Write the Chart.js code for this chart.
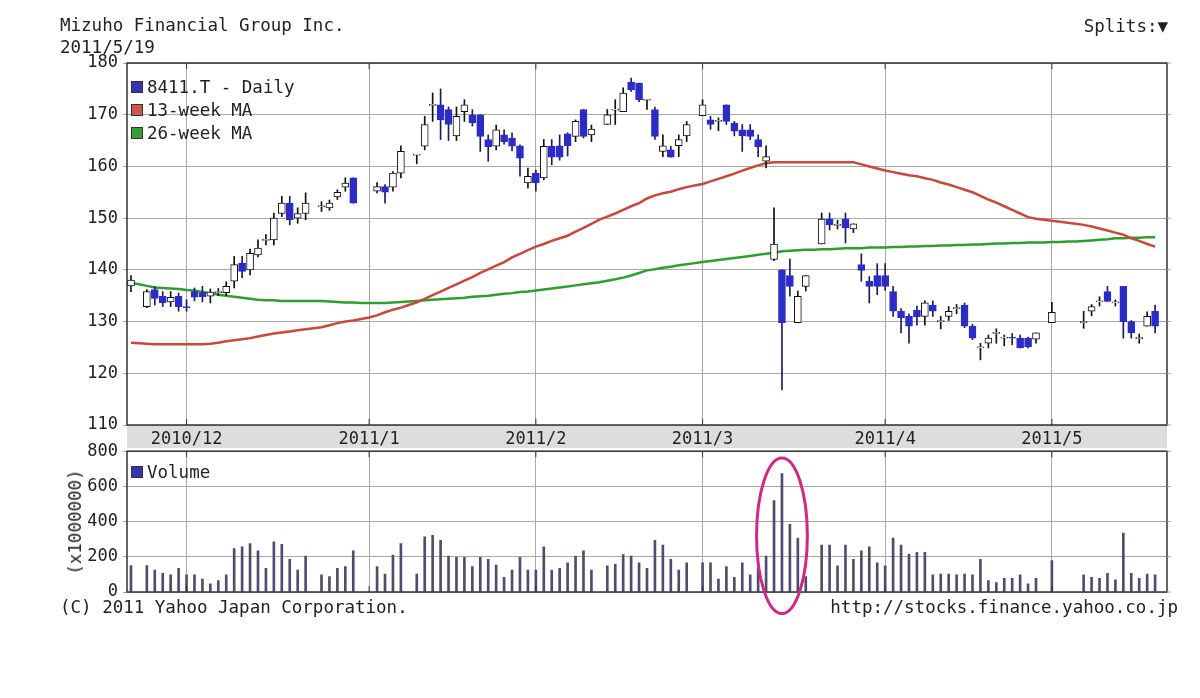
<!DOCTYPE html>
<html>
<head>
<meta charset="utf-8">
<title>Mizuho Financial Group Inc.</title>
<script src="https://cdn.jsdelivr.net/npm/chart.js@4.4.1/dist/chart.umd.min.js"></script>
<style>
  body { margin: 0; background: #fff; font-family: 'DejaVu Sans Mono', monospace; color: #222; }
  #wrap { position: relative; width: 1200px; height: 698px; overflow: hidden; }
  canvas { position: absolute; left: 0; }
  .t { position: absolute; font-size: 17.5px; line-height: 20px; white-space: pre; }
  .key { position: absolute; width: 10px; height: 10px; border: 1px solid #333; }
</style>
</head>
<body>
<div id="wrap">
  <canvas id="priceChart" width="1200" height="448" style="top:0"></canvas>
  <canvas id="volumeChart" width="1200" height="189" style="top:436px"></canvas>

  <div class="t" style="left:60px; top:15px">Mizuho Financial Group Inc.</div>
  <div class="t" style="left:60px; top:37px">2011/5/19</div>
  <div class="t" style="right:32px; top:16px">Splits:▼</div>

  <div class="key" style="left:131px; top:81px; background:#3434b4"></div>
  <div class="t" style="left:147px; top:77px">8411.T - Daily</div>
  <div class="key" style="left:131px; top:104px; background:#d0554a"></div>
  <div class="t" style="left:147px; top:100px">13-week MA</div>
  <div class="key" style="left:131px; top:127px; background:#34a034"></div>
  <div class="t" style="left:147px; top:123px">26-week MA</div>

  <div class="key" style="left:131px; top:466px; background:#3434b4"></div>
  <div class="t" style="left:147px; top:462px">Volume</div>
  <div class="t" style="left:75px; top:522px; transform:translate(-50%,-50%) rotate(-90deg)">(x1000000)</div>

  <div class="t" style="left:60px; top:597px">(C) 2011 Yahoo Japan Corporation.</div>
  <div class="t" style="right:22px; top:597px">http://stocks.finance.yahoo.co.jp</div>
</div>

<script>
// jours ouvrés (l'axe garde aussi les jours fériés, vides)
const dates = [
  '2010/11/22','2010/11/23','2010/11/24','2010/11/25','2010/11/26','2010/11/29','2010/11/30',
  '2010/12/1','2010/12/2','2010/12/3','2010/12/6','2010/12/7','2010/12/8','2010/12/9','2010/12/10',
  '2010/12/13','2010/12/14','2010/12/15','2010/12/16','2010/12/17','2010/12/20','2010/12/21','2010/12/22',
  '2010/12/23','2010/12/24','2010/12/27','2010/12/28','2010/12/29','2010/12/30','2010/12/31',
  '2011/1/3','2011/1/4','2011/1/5','2011/1/6','2011/1/7','2011/1/10','2011/1/11','2011/1/12','2011/1/13',
  '2011/1/14','2011/1/17','2011/1/18','2011/1/19','2011/1/20','2011/1/21','2011/1/24','2011/1/25',
  '2011/1/26','2011/1/27','2011/1/28','2011/1/31',
  '2011/2/1','2011/2/2','2011/2/3','2011/2/4','2011/2/7','2011/2/8','2011/2/9','2011/2/10','2011/2/11',
  '2011/2/14','2011/2/15','2011/2/16','2011/2/17','2011/2/18','2011/2/21','2011/2/22','2011/2/23',
  '2011/2/24','2011/2/25','2011/2/28','',
  '2011/3/1','2011/3/2','2011/3/3','2011/3/4','2011/3/7','2011/3/8','2011/3/9','2011/3/10','2011/3/11',
  '2011/3/14','2011/3/15','2011/3/16','2011/3/17','2011/3/18','2011/3/21','2011/3/22','2011/3/23',
  '2011/3/24','2011/3/25','2011/3/28','2011/3/29','2011/3/30','2011/3/31',
  '2011/4/1','2011/4/4','2011/4/5','2011/4/6','2011/4/7','2011/4/8','2011/4/11','2011/4/12','2011/4/13',
  '2011/4/14','2011/4/15','2011/4/18','2011/4/19','2011/4/20','2011/4/21','2011/4/22','2011/4/25',
  '2011/4/26','2011/4/27','2011/4/28','2011/4/29',
  '2011/5/2','2011/5/3','2011/5/4','2011/5/5','2011/5/6','2011/5/9','2011/5/10','2011/5/11','2011/5/12',
  '2011/5/13','2011/5/16','2011/5/17','2011/5/18','2011/5/19','2011/5/20'
];

// graduations des mois
const tickDates  = ['2010/12/1', '2011/1/3', '2011/2/1', '2011/3/1', '2011/4/1', '2011/5/2'];
const tickLabels = ['2010/12', '2011/1', '2011/2', '2011/3', '2011/4', '2011/5'];

const open = [
  136.9, null, 132.9, 136.2, 134.9, 133.8, 134.9,
  132.9, 135.8, 135.6, 134.9, 135.6, 135.6, 137.8, 141.3, 140.0, 142.9, 145.7, 145.8, 150.9, 152.9, 150.0, 150.9, null, 152.2, 152.0, 154.1, 156.0, 157.8, null,
  null, 155.2, 156.1, 156.0, 158.7, null, 162.2, 163.9, 171.8, 171.9, 171.0, 165.9, 170.6, 170.0, 170.0, 165.2, 163.9, 166.1, 165.5, 164.0, 156.8,
  158.7, 157.8, 163.9, 164.0, 166.3, 165.8, 171.0, 166.1, null, 168.1, 170.9, 170.6, 176.3, 176.1, 172.8, 171.0, 162.9, 163.2, 164.0, 165.9, null,
  169.8, 169.0, 168.7, 171.9, 168.4, 167.1, 167.1, 165.2, 161.0, 142.0, 140.0, 138.9, 129.8, 136.8, null, 145.0, 149.8, 148.6, 149.8, 147.9, 141.0, 137.8, 138.9,
  138.9, 135.8, 132.0, 131.0, 132.2, 131.0, 133.2, 130.0, 131.0, 132.5, 133.2, 129.1, 124.9, 125.8, 127.7, 126.8, 126.9, 126.8, 126.8, 126.6, null,
  129.8, null, null, null, 129.8, 132.0, 133.8, 135.8, 133.6, 136.8, 130.0, 126.7, 129.1, 132.0, null
];
const high = [
  138.9, null, 136.2, 136.8, 135.8, 135.8, 135.5,
  134.2, 136.5, 136.8, 136.3, 136.4, 137.7, 142.6, 142.6, 144.0, 145.8, 146.8, 151.0, 154.2, 154.2, 152.0, 154.9, null, 153.2, 153.5, 155.5, 157.8, 157.8, null,
  null, 156.9, 156.5, 159.0, 164.0, null, 162.3, 169.7, 174.2, 175.0, 171.5, 171.5, 172.9, 171.0, 170.0, 166.1, 168.0, 167.1, 166.5, 164.2, 159.7,
  159.3, 165.2, 165.2, 166.1, 166.5, 169.0, 171.0, 168.0, null, 171.0, 172.9, 175.2, 177.1, 176.1, 172.9, 171.5, 166.1, 163.9, 166.1, 168.7, null,
  172.9, 169.7, 169.4, 171.9, 168.7, 168.1, 168.1, 166.1, 164.0, 152.0, 140.0, 142.1, 135.9, 138.9, null, 151.0, 151.0, 149.6, 151.0, 148.9, 143.1, 138.7, 141.2,
  141.2, 136.8, 132.5, 131.5, 133.0, 134.0, 134.0, 131.0, 132.9, 133.3, 133.6, 129.5, 125.8, 127.4, 128.6, 127.4, 127.7, 127.4, 127.0, 127.8, null,
  133.7, null, null, null, 132.0, 133.3, 134.8, 136.8, 134.2, 136.8, 130.2, 127.6, 131.9, 133.2, null
];
const low = [
  135.8, null, 132.7, 133.2, 132.9, 132.9, 132.0,
  132.0, 134.0, 133.8, 133.6, 135.0, 135.0, 136.5, 138.5, 139.0, 142.5, 144.8, 144.8, 150.3, 148.7, 149.0, 149.7, null, 151.3, 151.5, 153.6, 155.2, 152.9, null,
  null, 154.9, 152.9, 155.2, 157.8, null, 160.5, 163.2, 168.7, 165.2, 165.0, 165.0, 168.7, 167.8, 162.9, 161.0, 163.2, 164.3, 163.0, 158.1, 155.8,
  155.2, 157.4, 160.3, 161.2, 162.0, 164.8, 165.5, 164.8, null, 168.1, 168.1, 170.6, 174.5, 172.5, 171.0, 165.2, 161.9, 161.8, 161.9, 164.8, null,
  169.8, 167.2, 166.9, 168.1, 165.9, 162.9, 165.2, 161.9, 159.7, 141.8, 116.8, 134.9, 129.8, 135.9, null, 145.0, 147.7, 147.9, 145.2, 147.2, 137.8, 133.6, 135.2,
  136.0, 131.0, 127.8, 125.8, 129.3, 129.3, 131.0, 128.6, 130.2, 131.5, 128.8, 126.5, 122.6, 124.9, 125.8, 125.3, 125.5, 124.9, 124.9, 125.8, null,
  129.8, null, null, null, 128.7, 131.1, 133.0, 133.9, 133.0, 126.8, 126.8, 125.8, 129.1, 127.8, null
];
const close = [
  138.0, null, 135.8, 134.5, 133.6, 134.7, 132.9,
  132.7, 134.7, 134.8, 135.7, 135.8, 136.8, 141.0, 139.7, 143.2, 144.2, 145.9, 150.0, 152.9, 149.7, 150.9, 152.9, null, 152.4, 152.9, 155.0, 156.8, 152.9, null,
  null, 156.1, 155.0, 158.7, 162.9, null, 162.3, 168.1, 172.0, 169.0, 168.1, 169.7, 171.9, 168.4, 165.8, 163.8, 167.1, 164.8, 163.9, 161.6, 158.1,
  156.8, 163.9, 161.8, 161.8, 164.0, 168.7, 165.8, 167.2, null, 170.0, 171.0, 174.2, 174.8, 172.9, 172.9, 165.8, 164.0, 161.8, 165.2, 168.1, null,
  171.9, 168.1, 168.8, 168.7, 166.8, 165.9, 165.8, 163.8, 161.9, 145.0, 129.8, 136.8, 134.9, 138.9, null, 149.8, 148.7, 148.8, 148.1, 148.9, 139.9, 136.8, 136.8,
  136.8, 132.0, 130.7, 129.1, 130.9, 133.6, 132.0, 130.1, 132.0, 132.7, 129.1, 126.8, 125.0, 126.8, 127.9, 126.9, 126.8, 124.9, 125.1, 127.8, null,
  131.8, null, null, null, 129.9, 132.9, 134.0, 133.9, 133.8, 130.0, 127.8, 126.9, 131.0, 129.1, null
];

// moyennes mobiles 13 et 26 semaines
const ma13 = [
  125.9, 125.8, 125.7, 125.6, 125.6, 125.6, 125.6,
  125.6, 125.6, 125.6, 125.7, 125.9, 126.2, 126.4, 126.6, 126.8, 127.1, 127.4, 127.7, 127.9, 128.1, 128.3, 128.5, 128.7, 128.9, 129.3, 129.7, 130.0, 130.2, 130.5,
  130.8, 131.2, 131.8, 132.3, 132.7, 133.2, 133.7, 134.4, 135.1, 135.8, 136.5, 137.2, 137.9, 138.6, 139.4, 140.1, 140.8, 141.5, 142.4, 143.1, 143.8,
  144.5, 145.0, 145.6, 146.1, 146.6, 147.4, 148.1, 148.9, 149.7, 150.3, 150.9, 151.6, 152.3, 152.9, 153.8, 154.4, 154.8, 155.1, 155.6, 156.0, 156.3,
  156.6, 157.1, 157.6, 158.1, 158.6, 159.2, 159.7, 160.2, 160.6, 160.8, 160.8, 160.8, 160.8, 160.8, 160.8, 160.8, 160.8, 160.8, 160.8, 160.8, 160.4, 160.0, 159.6,
  159.2, 158.9, 158.6, 158.3, 158.1, 157.7, 157.4, 156.9, 156.5, 156.0, 155.5, 155.0, 154.3, 153.6, 153.0, 152.3, 151.6, 150.9, 150.2, 149.9, 149.7,
  149.5, 149.3, 149.1, 148.9, 148.7, 148.4, 148.0, 147.6, 147.2, 146.8, 146.1, 145.6, 145.0, 144.5, null
];
const ma26 = [
  137.5, 137.2, 136.9, 136.6, 136.5, 136.4, 136.3,
  136.1, 136.0, 135.7, 135.5, 135.2, 135.0, 134.8, 134.6, 134.4, 134.2, 134.1, 134.1, 134.0, 134.0, 134.0, 134.0, 134.0, 134.0, 133.9, 133.8, 133.7, 133.7, 133.6,
  133.6, 133.6, 133.6, 133.7, 133.8, 133.9, 134.0, 134.1, 134.2, 134.3, 134.4, 134.5, 134.6, 134.8, 134.9, 135.0, 135.2, 135.4, 135.5, 135.7, 135.8,
  136.0, 136.2, 136.4, 136.6, 136.8, 137.0, 137.2, 137.4, 137.6, 137.9, 138.2, 138.5, 138.9, 139.4, 139.9, 140.1, 140.4, 140.6, 140.9, 141.1, 141.3,
  141.5, 141.7, 141.9, 142.1, 142.3, 142.5, 142.7, 142.9, 143.1, 143.3, 143.6, 143.7, 143.8, 143.9, 143.9, 144.0, 144.0, 144.1, 144.2, 144.2, 144.2, 144.3, 144.3,
  144.3, 144.4, 144.4, 144.5, 144.5, 144.6, 144.6, 144.7, 144.7, 144.8, 144.8, 144.9, 144.9, 145.0, 145.1, 145.1, 145.2, 145.2, 145.3, 145.3, 145.3,
  145.4, 145.4, 145.5, 145.5, 145.6, 145.7, 145.8, 145.9, 146.1, 146.1, 146.2, 146.2, 146.3, 146.3, null
];

// volume (x1 000 000)
const volume = [
  150, null, 150, 125, 106, 97, 135,
  97, 97, 73, 46, 65, 97, 247, 256, 275, 234, 135, 285, 271, 185, 125, 204, null, 97, 87, 135, 144, 234, null,
  null, 144, 102, 210, 275, null, 102, 313, 322, 294, 204, 197, 197, 144, 197, 185, 153, 84, 125, 197, 125,
  125, 256, 125, 135, 166, 204, 234, 125, null, 148, 157, 213, 204, 166, 135, 294, 266, 185, 125, 166, null,
  166, 166, 73, 144, 84, 166, 97, 135, 204, 519, 673, 384, 307, 87, null, 266, 266, 148, 266, 185, 234, 256, 166,
  148, 307, 266, 215, 225, 225, 97, 102, 102, 97, 102, 97, 185, 65, 54, 78, 78, 97, 46, 78, null,
  178, null, null, null, 97, 84, 78, 106, 69, 335, 106, 78, 102, 97, null
];

// la séance entourée à la main sur l'original
const ringDate = '2011/3/15';

const BLUE = '#2b2bc6';
const FONT = { family: "'DejaVu Sans Mono', monospace", size: 17 };
const GRID = '#a8a8a8';

const isUp = i => close[i] >= open[i];
const bodies = open.map((o, i) => o == null ? null : [o, close[i]]);
const wicks = low.map((l, i) => l == null ? null : [l, high[i]]);

const monthGrid = ctx => tickDates.includes(dates[ctx.index]) ? GRID : 'rgba(0,0,0,0)';

// cadre, petites marques et bande grise des dates
const framePlugin = {
    id: 'frame',
    beforeDraw(chart, args, opts) {
        if (!opts.band) return;
        const { ctx, chartArea: a } = chart;
        ctx.save();
        ctx.fillStyle = '#dddddd';
        ctx.fillRect(a.left, a.bottom, a.right - a.left, opts.band);
        ctx.restore();
    },
    afterDraw(chart) {
        const { ctx, chartArea: a, scales } = chart;
        ctx.save();
        ctx.strokeStyle = '#333';
        ctx.lineWidth = 1.5;
        ctx.strokeRect(a.left, a.top, a.right - a.left, a.bottom - a.top);
        ctx.lineWidth = 1;
        tickDates.forEach(d => {
            const x = scales.x.getPixelForValue(dates.indexOf(d));
            ctx.beginPath();
            ctx.moveTo(x, a.top); ctx.lineTo(x, a.top + 6);
            ctx.moveTo(x, a.bottom); ctx.lineTo(x, a.bottom - 6);
            ctx.stroke();
        });
        ctx.strokeStyle = GRID;
        scales.y.ticks.forEach((t, i) => {
            const y = scales.y.getPixelForTick(i);
            ctx.beginPath();
            ctx.moveTo(a.right, y); ctx.lineTo(a.right + 4, y);
            ctx.stroke();
        });
        ctx.restore();
    }
};

const ringPlugin = {
    id: 'ring',
    afterDraw(chart) {
        const { ctx, scales: { x, y } } = chart;
        const cx = x.getPixelForValue(dates.indexOf(ringDate));
        const cy = y.getPixelForValue(320);
        const rx = x.getPixelForValue(3.2) - x.getPixelForValue(0);
        const ry = y.getPixelForValue(0) - y.getPixelForValue(442);
        ctx.save();
        ctx.strokeStyle = '#cc2a86';
        ctx.lineWidth = 3;
        ctx.beginPath();
        ctx.ellipse(cx, cy, rx, ry, 0, 0, Math.PI * 2);
        ctx.stroke();
        ctx.restore();
    }
};

// graphique des cours
const priceChart = new Chart(document.getElementById('priceChart'), {
    type: 'bar',
    data: {
        labels: dates,
        datasets: [{
            label: 'body',
            data: bodies,
            backgroundColor: ctx => isUp(ctx.dataIndex) ? '#ffffff' : BLUE,
            borderColor: ctx => isUp(ctx.dataIndex) ? '#111111' : BLUE,
            borderWidth: 1,
            borderSkipped: false,
            barThickness: 7,
            minBarLength: 1,
            grouped: false,
            order: 0
        }, {
            label: 'wick',
            data: wicks,
            backgroundColor: ctx => isUp(ctx.dataIndex) ? '#111111' : '#1c1c5a',
            barThickness: 1,
            grouped: false,
            order: 1
        }, {
            type: 'line',
            label: '13-week MA',
            data: ma13,
            borderColor: '#c8483c',
            borderWidth: 2.5,
            pointRadius: 0,
            tension: 0,
            order: 3
        }, {
            type: 'line',
            label: '26-week MA',
            data: ma26,
            borderColor: '#2f9e2f',
            borderWidth: 2.5,
            pointRadius: 0,
            tension: 0,
            order: 3
        }]
    },
    options: {
        responsive: false,
        animation: false,
        layout: { padding: { top: 63, right: 33, left: 0, bottom: 0 } },
        plugins: { legend: { display: false }, tooltip: { enabled: false }, frame: { band: 23 } },
        scales: {
            x: {
                offset: true,
                grid: { offset: false, drawTicks: false, color: monthGrid },
                border: { display: false },
                ticks: {
                    autoSkip: false, maxRotation: 0, minRotation: 0, padding: 4,
                    color: '#222', font: FONT,
                    callback: (v, i) => {
                        const k = tickDates.indexOf(dates[i]);
                        return k < 0 ? '' : tickLabels[k];
                    }
                },
                afterFit: s => { s.height = 23; }
            },
            y: {
                min: 110, max: 180,
                ticks: { stepSize: 10, padding: 5, color: '#222', font: FONT },
                grid: { color: GRID, tickLength: 4 },
                border: { display: false },
                afterFit: s => { s.width = 127; }
            }
        }
    },
    plugins: [framePlugin]
});

// graphique du volume
const volumeChart = new Chart(document.getElementById('volumeChart'), {
    type: 'bar',
    data: {
        labels: dates,
        datasets: [{
            label: 'Volume',
            data: volume,
            backgroundColor: '#4e4e6c',
            barThickness: 2
        }]
    },
    options: {
        responsive: false,
        animation: false,
        layout: { padding: { top: 12, right: 33, left: 0, bottom: 0 } },
        plugins: { legend: { display: false }, tooltip: { enabled: false }, frame: { band: 0 } },
        scales: {
            x: {
                offset: true,
                grid: { offset: false, drawTicks: false, color: monthGrid },
                border: { display: false },
                ticks: { display: false, autoSkip: false },
                afterFit: s => { s.height = 33; }
            },
            y: {
                min: 0, max: 800,
                ticks: { stepSize: 200, padding: 5, color: '#222', font: FONT },
                grid: { color: GRID, tickLength: 4 },
                border: { display: false },
                afterFit: s => { s.width = 127; }
            }
        }
    },
    plugins: [framePlugin, ringPlugin]
});
</script>
</body>
</html>
